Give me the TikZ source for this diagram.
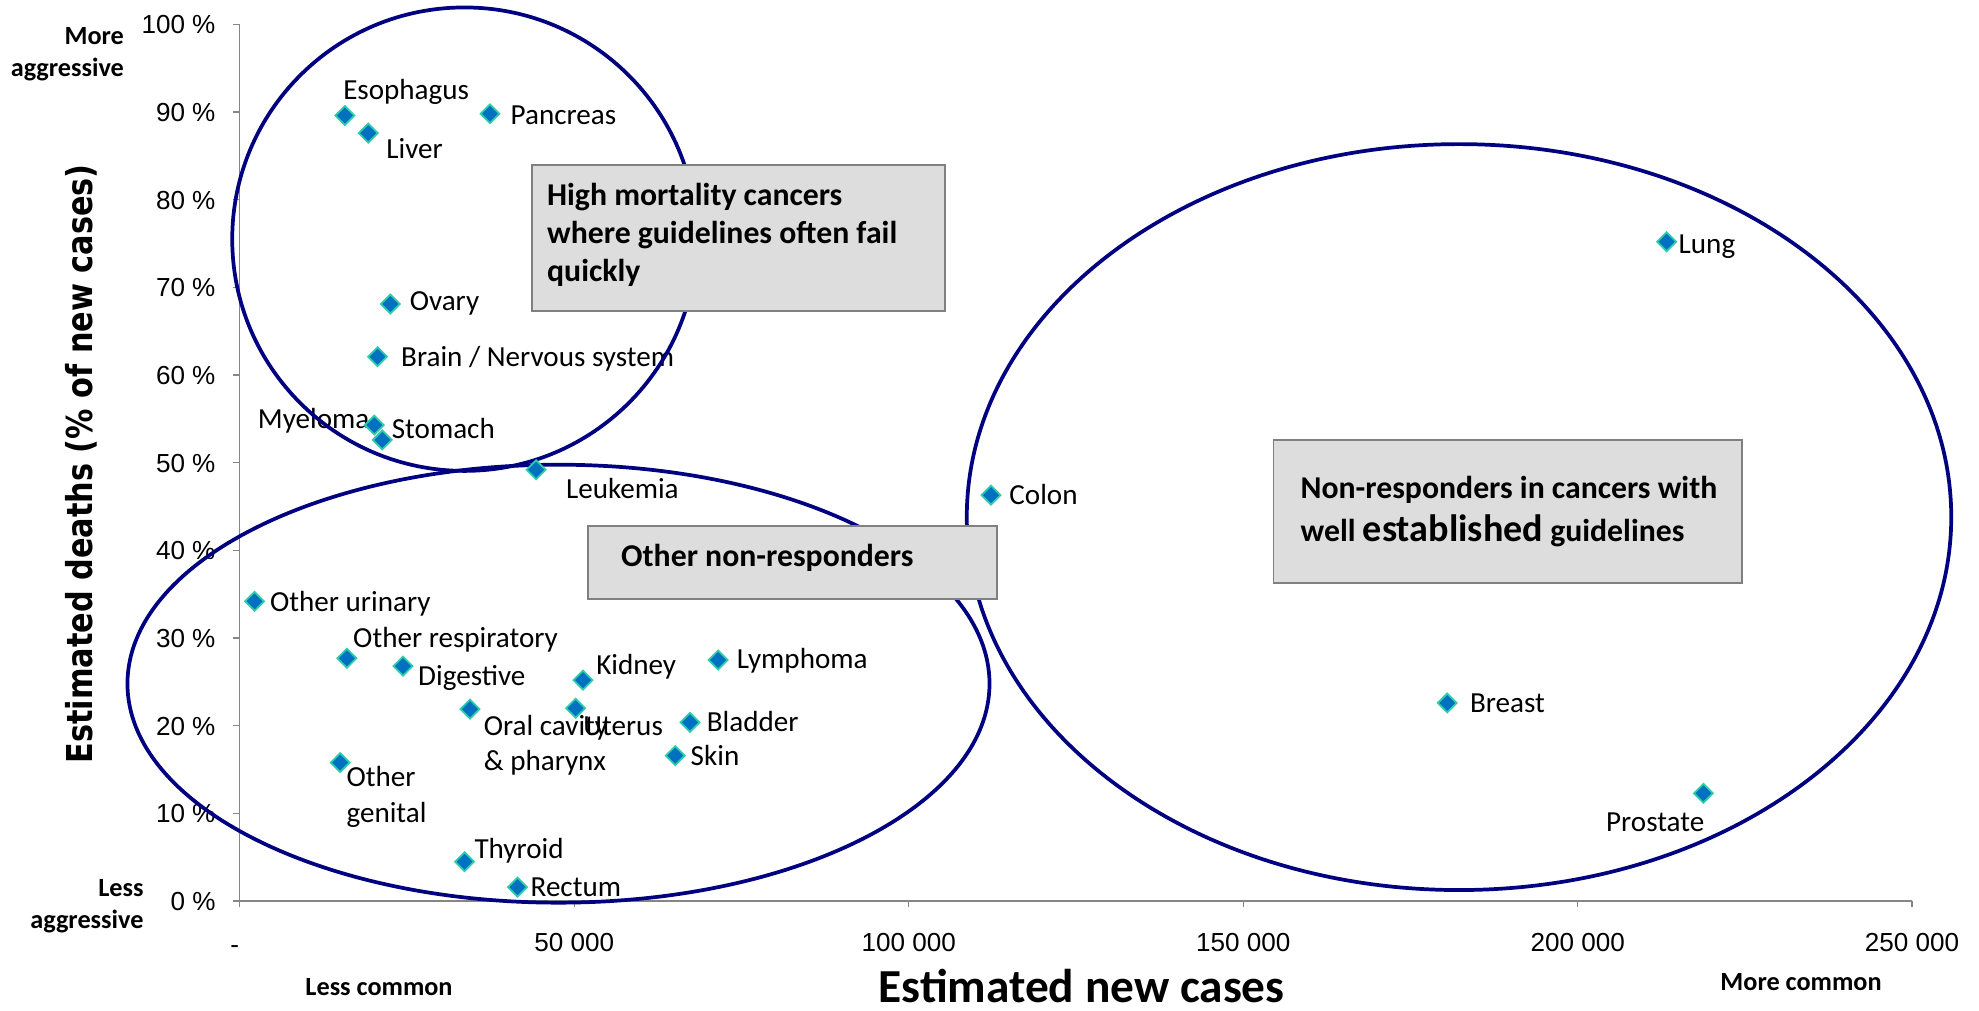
\documentclass[tikz,border=0pt]{standalone}
\usepackage{fontspec}
\setmainfont{Carlito}
\newfontfamily\tickfont{Liberation Sans}
\newfontfamily\ytitlefont{DejaVu Sans}[FakeStretch=0.85]
\usetikzlibrary{shapes.geometric,positioning}
\definecolor{ptfill}{RGB}{0,112,192}
\definecolor{ptedge}{RGB}{45,205,170}
\definecolor{ring}{RGB}{0,0,128}
\definecolor{axisgray}{RGB}{134,134,134}
\definecolor{notefill}{RGB}{221,221,221}
\definecolor{noteedge}{RGB}{128,128,128}
\tikzset{
  cancer/.style={diamond,fill=ptfill,draw=ptedge,line width=1pt,inner sep=0pt,minimum size=3.9mm},
  tag/.style={font=\fontsize{16.4}{19.9}\selectfont,inner sep=0pt,text height=10.5pt,text depth=0pt},
  tagtwo/.style={font=\fontsize{16.4}{19.9}\selectfont,inner sep=0pt,align=left},
  axisline/.style={draw=axisgray,line width=0.75pt},
  ticklab/.style={font=\tickfont\fontsize{14.7}{17}\selectfont,inner sep=0pt,text height=10.5pt,text depth=0pt},
  group/.style={draw=ring,line width=2.1pt},
  note/.style={draw=noteedge,fill=notefill,line width=1.1pt,inner sep=0pt},
  notetext/.style={font=\bfseries\fontsize{17.9}{21.5}\selectfont,inner sep=0pt,align=left},
  corner/.style={font=\bfseries\fontsize{14.8}{17.8}\selectfont,inner sep=0pt,align=right},
}

\begin{document}
\begin{tikzpicture}[x=0.25mm,y=0.25mm]
  \fill[white] (0,0) rectangle (1568,801);
  \useasboundingbox (0,0) rectangle (1568,801);
  % axes
  \draw[axisline] (190,82) -- (190,782);
  \draw[axisline] (185,87) -- (1515,87);
  \foreach \p in {0,...,10} {
    \draw[axisline] (185,87+69.47*\p) -- (190,87+69.47*\p);
    \pgfmathtruncatemacro\pc{10*\p}
    \node[ticklab,anchor=east] (yt\p) at (171,87+69.47*\p) {\pc\ \%};
  }
  \foreach \k in {1,...,5} {
    \draw[axisline] (190+265*\k,87) -- (190+265*\k,82);
    \pgfmathtruncatemacro\nc{50*\k}
    \node[ticklab] (xt\k) at (190+265*\k,54.4) {\nc\ 000};
  }
  \node[ticklab] (xt0) at (186,52.6) {-};
  \node[font=\bfseries\fontsize{26.7}{30}\selectfont,inner sep=0pt,anchor=base] (xtitle) at (857,7) {Estimated new cases};
  \node[font=\ytitlefont\bfseries\fontsize{20.1}{24}\selectfont,inner sep=0pt,rotate=90,anchor=base] (ytitle) at (73.4,433.5) {Estimated deaths (\% of new cases)};
  \node[corner,anchor=east] (moreagg) at (98.5,758) {More\\aggressive};
  \node[corner,anchor=east] (lessagg) at (114,83) {Less\\aggressive};
  \node[corner] (lesscom) at (300.3,19.2) {Less common};
  \node[corner] (morecom) at (1427,23.2) {More common};

  % point labels
  \foreach \nm/\lx/\ly/\txt in {eso/271.7/729.7/Esophagus, liver/305.9/682.9/Liver,
      pancreas/404.3/709.9/Pancreas, ovary/324.4/562/Ovary, stomach/310.2/460.8/Stomach,
      leukemia/448.2/413.3/Leukemia, colon/799.5/409/Colon, lung/1329.8/607.8/Lung,
      breast/1164.5/243.8/Breast, ourinary/213.8/324/Other urinary,
      oresp/279.6/295.6/Other respiratory, digestive/331.1/265.3/Digestive,
      kidney/472.2/274.3/Kidney, lymphoma/583.6/278.6/Lymphoma, uterus/462/226/Uterus,
      bladder/559.8/229/Bladder, skin/547/202.1/Skin, thyroid/375.7/128.4/Thyroid,
      rectum/420.2/98/Rectum}
    \node[tag,anchor=west] (\nm-l) at (\lx,\ly) {\txt};
  \node[tag,anchor=west] (brain-l) at (317.6,517.9) {Brain / Nervous system};
  \node[tag,anchor=east] (myeloma-l) at (292.9,468.7) {Myeloma};
  \node[tag,anchor=east] (prostate-l) at (1350.6,149.7) {Prostate};
  \node[tagtwo,anchor=west] (oral-l) at (383.1,210.8) {Oral cavity\\\& pharynx};
  \node[tagtwo,anchor=west] (ogenital-l) at (274.3,169.7) {Other\\genital};

  % groups
  \draw[group] (368,611.5) ellipse [x radius=46mm,y radius=45.9mm];
  \draw[group] (442.5,259.3) ellipse [x radius=85.375mm,y radius=43.375mm];
  \draw[group] (1156,391.3) ellipse [x radius=97.5mm,y radius=73.875mm];

  \begin{scope}[shift={(190,87)},x=1.325mm,y=1.7368mm]
    \foreach \nm/\cx/\cy in {eso/15.7/89.6, liver/19.2/87.6, pancreas/37.4/89.8,
        ovary/22.5/68.1, brain/20.6/62.1, myeloma/20.1/54.3, stomach/21.3/52.6,
        leukemia/44.3/49.2, colon/112.3/46.3, lung/213.3/75.2, breast/180.5/22.6,
        prostate/218.8/12.3, ourinary/2.2/34.2, oresp/16.0/27.7, digestive/24.4/26.8,
        oral/34.4/21.9, uterus/50.2/22.0, kidney/51.3/25.2, lymphoma/71.5/27.5,
        bladder/67.3/20.4, skin/65.1/16.6, ogenital/15.0/15.8, thyroid/33.6/4.5,
        rectum/41.5/1.6}
      \node[cancer] (\nm) at (\cx,\cy) {};
  \end{scope}

  % notes
  \node[note,minimum width=81.8mm,minimum height=28.9mm] (highbox) at (585.2,612.7) {};
  \node[notetext,anchor=west] (hightext) at ([xshift=3.1mm,yshift=0.5mm]highbox.west) {High mortality cancers\\where guidelines often fail\\quickly};
  \node[note,minimum width=81mm,minimum height=14.5mm] (otherbox) at (627.7,355.6) {};
  \node[notetext,anchor=west] (othertext) at ([xshift=6.75mm,yshift=0.8mm]otherbox.west) {Other non-responders};
  \node[note,minimum width=92.75mm,minimum height=28.2mm] (estbox) at (1194.5,395.7) {};
  \node[notetext,anchor=west,font=\bfseries\fontsize{17.9}{23.9}\selectfont] (esttext) at ([xshift=5.5mm]estbox.west) {Non-responders in cancers with\\well {\fontsize{21.5}{23.9}\selectfont established} guidelines};
\end{tikzpicture}
\end{document}
